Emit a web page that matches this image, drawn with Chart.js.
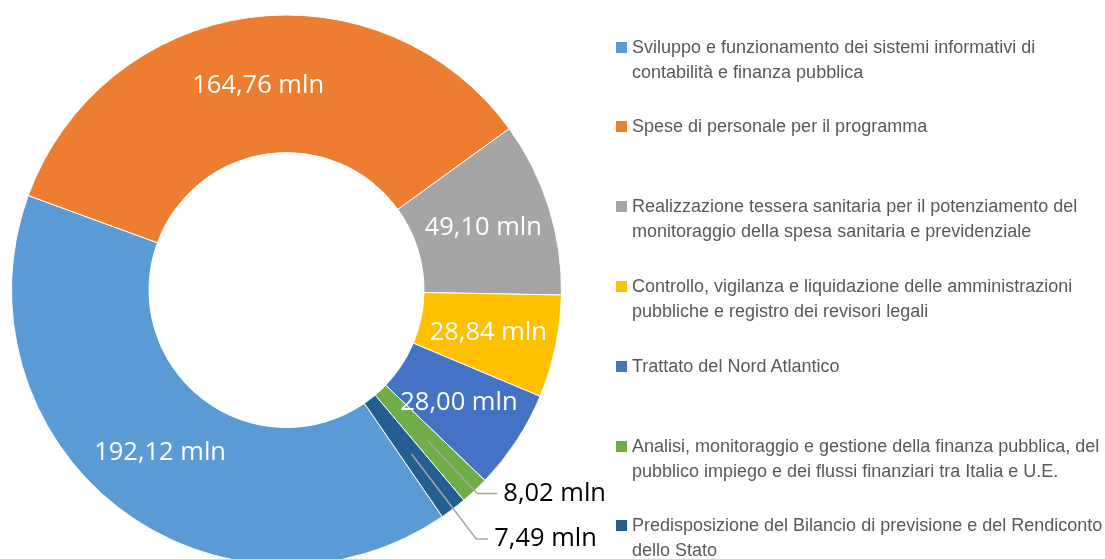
<!DOCTYPE html>
<html>
<head>
<meta charset="utf-8">
<script src="https://cdn.jsdelivr.net/npm/chart.js@4.4.1/dist/chart.umd.min.js"></script>
<style>
  html, body { margin: 0; padding: 0; background: #fff; }
  #wrap { position: relative; width: 1105px; height: 559px; overflow: hidden; }
  #chart { position: absolute; left: 0; top: 0; }
  #legend { position: absolute; left: 0; top: 0; }
  .item { position: absolute; left: 616px; font-family: "Liberation Sans", Arial, sans-serif; font-size: 18px; line-height: 25px; color: #595959; white-space: nowrap; }
  .item .sw { position: absolute; left: 0; top: 7px; width: 11px; height: 11px; }
  .item .tx { margin-left: 16px; }
</style>
</head>
<body>
<div id="wrap">
  <canvas id="chart" width="1105" height="580"></canvas>
  <div id="legend"></div>
</div>
<script>
// categories (legend lines as in the original)
const categories = [
  ["Sviluppo e funzionamento dei sistemi informativi di", "contabilità e finanza pubblica"],
  ["Spese di personale per il programma"],
  ["Realizzazione tessera sanitaria per il potenziamento del", "monitoraggio della spesa sanitaria e previdenziale"],
  ["Controllo, vigilanza e liquidazione delle amministrazioni", "pubbliche e registro dei revisori legali"],
  ["Trattato del Nord Atlantico"],
  ["Analisi, monitoraggio e gestione della finanza pubblica, del", "pubblico impiego e dei flussi finanziari tra Italia e U.E."],
  ["Predisposizione del Bilancio di previsione e del Rendiconto", "dello Stato"]
];
const values = [192.12, 164.76, 49.10, 28.84, 28.00, 8.02, 7.49];
const colors = ["#5B9BD5", "#ED7D31", "#A5A5A5", "#FFC000", "#4472C4", "#70AD47", "#255E91"];
// labels drawn outside with a leader line: elbow radius and horizontal tail, null = inside
const calloutRadius = [null, null, null, null, null, 279, 313];
const calloutTail = [0, 0, 0, 0, 0, 20, 12];

const fmt = v => v.toFixed(2).replace(".", ",") + " mln";

const sliceLabels = {
  id: "sliceLabels",
  afterDatasetsDraw(chart) {
    const ctx = chart.ctx;
    const meta = chart.getDatasetMeta(0);
    ctx.save();
    ctx.font = '25.5px "Open Sans", sans-serif';
    ctx.textBaseline = "middle";
    meta.data.forEach((arc, i) => {
      const p = arc.getProps(["x", "y", "startAngle", "endAngle", "innerRadius", "outerRadius"], true);
      const mid = (p.startAngle + p.endAngle) / 2;
      const cos = Math.cos(mid), sin = Math.sin(mid);
      const r = (p.innerRadius + p.outerRadius) / 2;
      const text = fmt(values[i]);
      if (calloutRadius[i] == null) {
        ctx.fillStyle = "#ffffff";
        ctx.textAlign = "center";
        ctx.fillText(text, p.x + cos * r, p.y + sin * r);
      } else {
        const r1 = calloutRadius[i];
        const ex = p.x + cos * r1, ey = p.y + sin * r1;
        ctx.strokeStyle = "#A6A6A6";
        ctx.lineWidth = 1.5;
        ctx.beginPath();
        ctx.moveTo(p.x + cos * r, p.y + sin * r);
        ctx.lineTo(ex, ey);
        ctx.lineTo(ex + calloutTail[i], ey);
        ctx.stroke();
        ctx.fillStyle = "#000000";
        ctx.textAlign = "left";
        ctx.fillText(text, ex + calloutTail[i] + 6, ey);
      }
    });
    ctx.restore();
  }
};

new Chart(document.getElementById("chart"), {
  type: "doughnut",
  data: {
    labels: categories.map(c => c.join(" ")),
    datasets: [{
      data: values,
      backgroundColor: colors,
      borderColor: "#ffffff",
      borderWidth: 1
    }]
  },
  options: {
    responsive: false,
    animation: false,
    rotation: 145.5,
    cutout: "50%",
    layout: { padding: { left: 11, top: 14.5, right: 543, bottom: 14.5 } },
    plugins: {
      legend: { display: false },
      tooltip: { enabled: false }
    }
  },
  plugins: [sliceLabels]
});

// legend on the right
const legend = document.getElementById("legend");
categories.forEach((lines, i) => {
  const item = document.createElement("div");
  item.className = "item";
  item.style.top = (34.5 + i * 79.8) + "px";
  const sw = document.createElement("div");
  sw.className = "sw";
  sw.style.background = colors[i];
  const tx = document.createElement("div");
  tx.className = "tx";
  lines.forEach(l => {
    const d = document.createElement("div");
    d.textContent = l;
    tx.appendChild(d);
  });
  item.appendChild(sw);
  item.appendChild(tx);
  legend.appendChild(item);
});
</script>
</body>
</html>
